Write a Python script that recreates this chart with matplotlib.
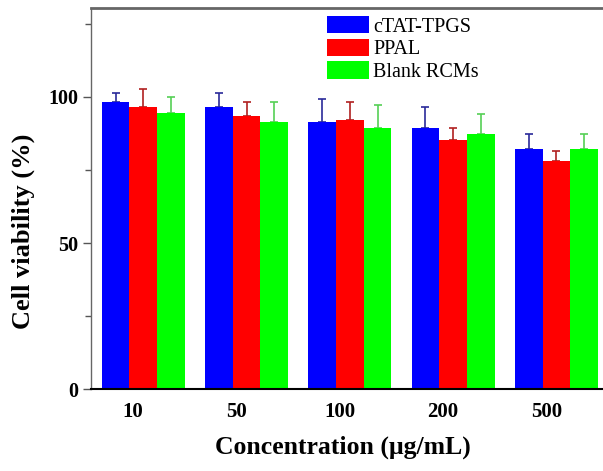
import numpy as np
import matplotlib.pyplot as plt
from matplotlib.ticker import MultipleLocator

plt.rcParams['font.family'] = ['Liberation Serif', 'DejaVu Serif']

# data
concentrations = ['10', '50', '100', '200', '500']
ctat_tpgs = [98.4, 96.5, 91.4, 89.3, 82.3]
ctat_tpgs_err = [2.8, 4.7, 8.0, 7.2, 5.0]
ppal = [96.5, 93.3, 92.1, 85.2, 78.2]
ppal_err = [6.1, 5.0, 6.2, 4.3, 3.3]
blank_rcms = [94.4, 91.4, 89.3, 87.3, 82.3]
blank_rcms_err = [5.7, 6.9, 7.8, 7.0, 5.0]

series = [
    ('cTAT-TPGS', ctat_tpgs, ctat_tpgs_err, '#0000ff', '#2a2a9a'),
    ('PPAL', ppal, ppal_err, '#ff0000', '#b02020'),
    ('Blank RCMs', blank_rcms, blank_rcms_err, '#00ff00', '#55d055'),
]

fig = plt.figure(figsize=(6.03, 4.71), dpi=100)
ax = fig.add_axes([91 / 603, 1 - 389.3 / 471, 1 - 91 / 603, (389.3 - 8) / 471])

x = np.arange(len(concentrations))
w = 0.268
for k, (name, vals, err, col, ecol) in enumerate(series):
    pos = x + (k - 0.63) * w
    ax.bar(pos, vals, width=w, color=col, label=name, zorder=2)
    ax.errorbar(pos, vals, yerr=[np.zeros(len(vals)), err], fmt='none',
                ecolor=ecol, elinewidth=1.2, capsize=3, capthick=1.2, zorder=1)

ax.set_xlim(-0.407, 4.55)
ax.set_ylim(0, 130.4)
ax.set_xticks(x)
ax.set_xticklabels(concentrations, fontsize=15, fontweight='bold')
ax.tick_params(axis='x', length=0, pad=9)
ax.yaxis.set_major_locator(MultipleLocator(50))
ax.yaxis.set_minor_locator(MultipleLocator(25))
ax.tick_params(axis='y', which='major', length=6, width=1, color='#555555',
               labelsize=14.5, pad=3)
ax.tick_params(axis='y', which='minor', length=4, width=1, color='#555555')
for lab in ax.get_yticklabels():
    lab.set_fontweight('bold')

ax.spines['right'].set_visible(False)
ax.spines['top'].set_color('#666666')
ax.spines['top'].set_linewidth(2)
ax.spines['left'].set_color('#666666')
ax.spines['left'].set_linewidth(1)
ax.spines['bottom'].set_color('black')
ax.spines['bottom'].set_linewidth(1.5)

ax.set_ylabel('Cell viability (%)', fontsize=19, fontweight='bold')
ax.yaxis.set_label_coords(-0.11, 0.415)
ax.set_xlabel('Concentration (\u03bcg/mL)', fontsize=18.5, fontweight='bold')
ax.xaxis.set_label_coords(0.492, -0.122)

ax.legend(loc='upper left', bbox_to_anchor=(327 / 603, 1 - 16 / 471),
          bbox_transform=fig.transFigure, frameon=False, fontsize=14.5,
          handlelength=2.1, handleheight=0.95, labelspacing=0.1,
          handletextpad=0.2, borderpad=0, borderaxespad=0)

fig.savefig('out.png', dpi=100)
